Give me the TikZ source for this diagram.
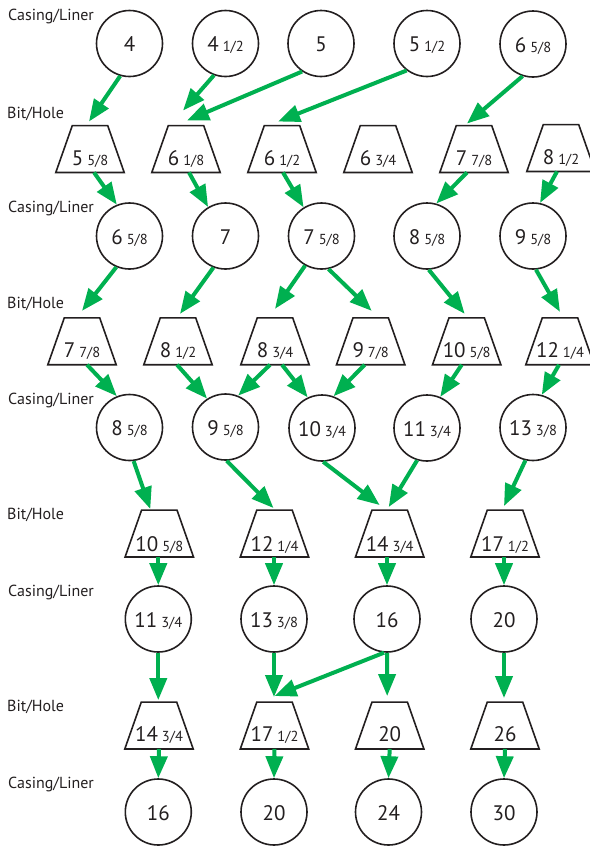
\documentclass[tikz,border=0pt]{standalone}
\usepackage{fontspec}
\setmainfont{PT Sans}
\usetikzlibrary{arrows.meta,calc}
\definecolor{arrowgreen}{RGB}{0,176,80}
\definecolor{inkblack}{RGB}{35,31,32}
\newcommand\nm[2]{{\fontsize{21}{21}\selectfont #1}\hspace{4pt}{\fontsize{14.5}{14.5}\selectfont #2}}
\newcommand\nb[1]{{\fontsize{21}{21}\selectfont #1}}
\begin{document}
\begin{tikzpicture}[x=1pt,y=-1pt,
  casing/.style={circle,draw=inkblack,text=inkblack,line width=1.6pt,minimum size=66pt,inner sep=0pt,text height=16pt,text depth=0pt},
  bitbox/.style={rectangle,minimum width=68pt,minimum height=46.5pt,inner sep=0pt,text=inkblack,text height=32pt,text depth=0pt},
  lowtext/.style={text height=36pt},
  trapline/.style={draw=inkblack,line width=1.6pt},
  flow/.style={draw=arrowgreen,line width=4pt,-{Triangle[length=22pt,width=17pt]}},
  rowlabel/.style={anchor=base west,inner sep=0pt,font=\fontsize{16}{16}\selectfont,text=inkblack}
]
\useasboundingbox (0,0) rectangle (589,846);

% row labels
\node[rowlabel] (l1) at (8,20.7) {Casing/Liner};
\node[rowlabel] (l2) at (7,118.3) {Bit/Hole};
\node[rowlabel] (l3) at (8,212.3) {Casing/Liner};
\node[rowlabel] (l4) at (7,308.3) {Bit/Hole};
\node[rowlabel] (l5) at (8,404.3) {Casing/Liner};
\node[rowlabel] (l6) at (7,519.3) {Bit/Hole};
\node[rowlabel] (l7) at (8,596) {Casing/Liner};
\node[rowlabel] (l8) at (7,711) {Bit/Hole};
\node[rowlabel] (l9) at (8,788.3) {Casing/Liner};

% row 1 casings
\node[casing] (a1) at (129.5,43.5) {\nb{4}};
\node[casing] (a2) at (225.5,43.5) {\nm{4}{1/2}};
\node[casing] (a3) at (321,43.5) {\nb{5}};
\node[casing] (a4) at (427,43.5) {\nm{5}{1/2}};
\node[casing] (a5) at (533,44) {\nm{6}{5/8}};
% row 2 bits
\node[bitbox] (b1) at (90,149) {\nm{5}{5/8}};
\node[bitbox] (b2) at (186,149) {\nm{6}{1/8}};
\node[bitbox] (b3) at (282,149) {\nm{6}{1/2}};
\node[bitbox] (b4) at (378,149) {\nm{6}{3/4}};
\node[bitbox] (b5) at (474,149) {\nm{7}{7/8}};
\node[bitbox] (b6) at (561,148) {\nm{8}{1/2}};
% row 3 casings
\node[casing] (c1) at (129.5,236) {\nm{6}{5/8}};
\node[casing] (c2) at (225.5,236) {\nb{7}};
\node[casing] (c3) at (321.5,236) {\nm{7}{5/8}};
\node[casing] (c4) at (427,236) {\nm{8}{5/8}};
\node[casing] (c5) at (533,236) {\nm{9}{5/8}};
% row 4 bits
\node[bitbox] (d1) at (82,341.3) {\nm{7}{7/8}};
\node[bitbox] (d2) at (178,341.3) {\nm{8}{1/2}};
\node[bitbox] (d3) at (275,341.3) {\nm{8}{3/4}};
\node[bitbox] (d4) at (370.7,341.3) {\nm{9}{7/8}};
\node[bitbox] (d5) at (466.7,341.3) {\nm{10}{5/8}};
\node[bitbox] (d6) at (560,341.3) {\nm{12}{1/4}};
% row 5 casings
\node[casing] (e1) at (129.5,427.5) {\nm{8}{5/8}};
\node[casing] (e2) at (225.5,427) {\nm{9}{5/8}};
\node[casing] (e3) at (322,428) {\nm{10}{3/4}};
\node[casing] (e4) at (427,428) {\nm{11}{3/4}};
\node[casing] (e5) at (533,427.5) {\nm{13}{3/8}};
% row 6 bits
\node[bitbox,lowtext] (f1) at (159.3,533.5) {\nm{10}{5/8}};
\node[bitbox,lowtext] (f2) at (274.5,533.5) {\nm{12}{1/4}};
\node[bitbox,lowtext] (f3) at (389.7,533.5) {\nm{14}{3/4}};
\node[bitbox,lowtext] (f4) at (505,533.5) {\nm{17}{1/2}};
% row 7 casings
\node[casing] (g1) at (158.3,619) {\nm{11}{3/4}};
\node[casing] (g2) at (274,619) {\nm{13}{3/8}};
\node[casing] (g3) at (387,619) {\nb{16}};
\node[casing] (g4) at (504,619) {\nb{20}};
% row 8 bits
\node[bitbox] (h1) at (159,725.5) {\nm{14}{3/4}};
\node[bitbox] (h2) at (274.5,725.5) {\nm{17}{1/2}};
\node[bitbox] (h3) at (389.7,725.5) {\nb{20}};
\node[bitbox] (h4) at (505,725.5) {\nb{26}};
% row 9 casings
\node[casing] (i1) at (158.3,812) {\nb{16}};
\node[casing] (i2) at (274,812) {\nb{20}};
\node[casing] (i3) at (388.5,812) {\nb{24}};
\node[casing] (i4) at (504,812) {\nb{30}};

% trapezoid outlines
\foreach \t in {b1,b2,b3,b4,b5,b6,d1,d2,d3,d4,d5,d6,f1,f2,f3,f4,h1,h2,h3,h4}
  \draw[trapline] (\t.south west) -- (\t.south east) -- ($(\t.north east)+(-16.5,0)$) -- ($(\t.north west)+(16.5,0)$) -- cycle;

% row 1 -> row 2
\draw[flow] (a1.-106) -- ($(b1.north)+(-1,-4)$);
\draw[flow] (a2.-110) -- ($(b2.north)+(-3,-15)$);
\draw[flow] (a3.-124) -- ($(b2.north)+(1,-5)$);
\draw[flow] (a4.-127) -- ($(b3.north)+(-4,-4)$);
\draw[flow] (a5.-108) -- ($(b5.north)+(-7,-2)$);
% row 2 -> row 3
\draw[flow] ($(b1.south)+(4,0)$) -- (c1.112);
\draw[flow] ($(b2.south)+(3,0)$) -- (c2.121);
\draw[flow] ($(b3.south)+(1,0)$) -- (c3.122);
\draw[flow] ($(b5.south)+(-7,0)$) -- (c4.74);
\draw[flow] ($(b6.south)+(-4,0)$) -- (c5.78);
% row 3 -> row 4
\draw[flow] (c1.-113) -- ($(d1.north)+(0,-7)$);
\draw[flow] (c2.-111) -- ($(d2.north)+(2,-4)$);
\draw[flow] (c3.-119) -- ($(d3.north)+(0,-9)$);
\draw[flow] (c3.-78) -- ($(d4.north)+(1,-7)$);
\draw[flow] (c4.-87) -- ($(d5.north)+(-2,-4)$);
\draw[flow] (c5.-85) -- ($(d6.north)+(0,-6)$);
% row 4 -> row 5
\draw[flow] ($(d1.south)+(5,0)$) -- (e1.112);
\draw[flow] ($(d2.south)+(-1,0)$) -- (e2.123);
\draw[flow] ($(d3.south)+(-5,0)$) -- (e2.68);
\draw[flow] ($(d3.south)+(7,0)$) -- (e3.115);
\draw[flow] ($(d4.south)+(-6,0)$) -- (e3.70);
\draw[flow] ($(d5.south)+(-5,0)$) -- (e4.67);
\draw[flow] ($(d6.south)+(-1,0)$) -- (e5.75);
% row 5 -> row 6
\draw[flow] (e1.-83) -- ($(f1.north)+(-9,-1)$);
\draw[flow] (e2.-88) -- ($(f2.north)+(-1,-2)$);
\draw[flow] (e3.-88) -- ($(f3.north)+(-10,-5)$);
\draw[flow] (e4.-107) -- ($(f3.north)+(-1,-3)$);
\draw[flow] (e5.-103) -- ($(f4.north)+(-1,-4)$);
% row 6 -> row 7
\draw[flow] (g1.north |- f1.south) -- (g1.north);
\draw[flow] (g2.north |- f2.south) -- (g2.north);
\draw[flow] (g3.north |- f3.south) -- (g3.north);
\draw[flow] (g4.north |- f4.south) -- (g4.north);
% row 7 -> row 8
\draw[flow] (g1.south) -- ($(h1.north)+(-0.7,-2)$);
\draw[flow] (g2.south) -- ($(h2.north)+(-0.5,-5)$);
\draw[flow] (g3.-95) -- ($(h2.north)+(0,-6)$);
\draw[flow] (g3.south) -- ($(h3.north)+(-2.5,-6)$);
\draw[flow] (g4.south) -- ($(h4.north)+(-1,-4)$);
% row 8 -> row 9
\draw[flow] (h1.south) -- (i1.north);
\draw[flow] (h2.south) -- (i2.north);
\draw[flow] (h3.south) -- (i3.north);
\draw[flow] (h4.south) -- (i4.north);
\end{tikzpicture}
\end{document}
